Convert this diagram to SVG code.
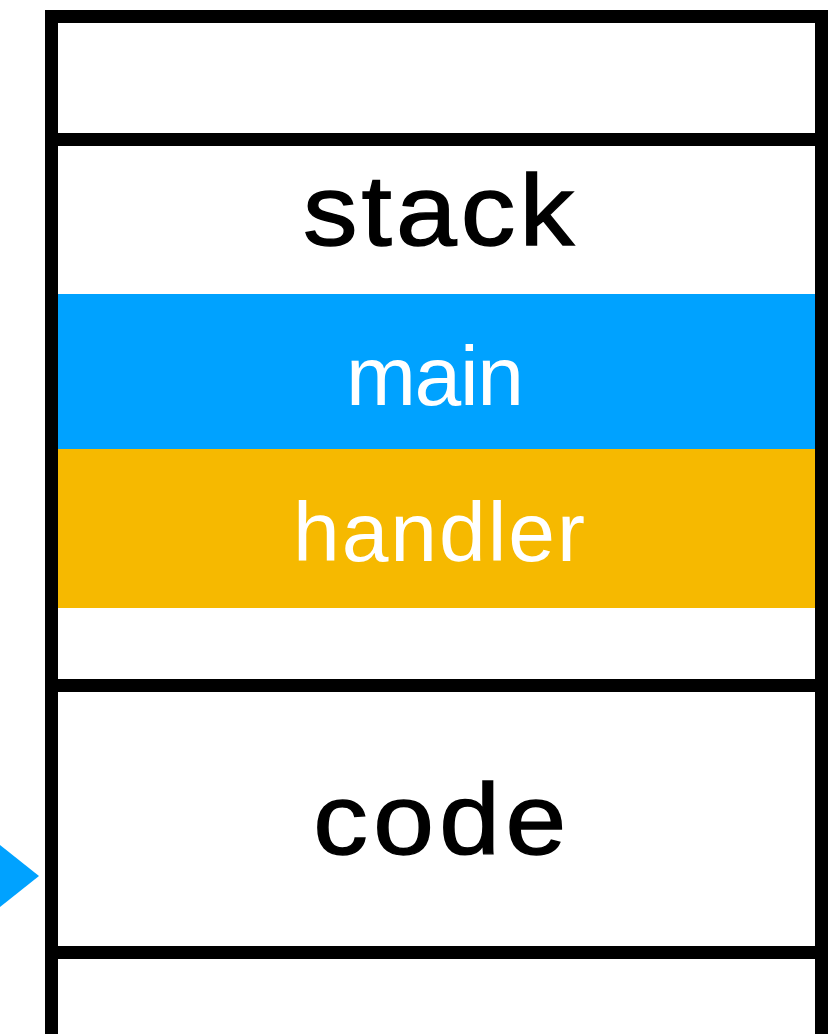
<svg xmlns="http://www.w3.org/2000/svg" width="840" height="1034" viewBox="0 0 840 1034">
<style>
.frame{fill:none;stroke:#000;stroke-width:13}
.t{font-family:"Liberation Sans",Arial,sans-serif;text-anchor:middle}
.big{font-size:101px;fill:#000;stroke:#000;stroke-width:1.4}
.small{font-size:84px;fill:#fff}
</style>
<rect width="840" height="1034" fill="#fff"/>
<g id="bands">
<rect x="58" y="294" width="758" height="155" fill="#00A2FF"/>
<rect x="58" y="449" width="758" height="159" fill="#F6B900"/>
</g>
<g id="frame">
<path class="frame" d="M51.5,1034 V16.5 H821.5 V1034"/>
<path class="frame" d="M45,139.5 H828 M45,685.5 H828 M45,952.5 H828"/>
</g>
<g id="stack" transform="scale(1.08,1)"><text class="t big" x="406" y="245" textLength="251" lengthAdjust="spacing">stack</text></g>
<g id="main"><text class="t small" x="435" y="405" textLength="178" lengthAdjust="spacing">main</text></g>
<g id="handler"><text class="t small" x="439" y="561" textLength="292" lengthAdjust="spacing">handler</text></g>
<g id="code" transform="scale(1.08,1)"><text class="t big" x="407.1" y="854" textLength="234.3" lengthAdjust="spacing">code</text></g>
<g id="connectors">
<polygon points="0,845 39,876 0,907" fill="#00A2FF"/>
</g>
</svg>
